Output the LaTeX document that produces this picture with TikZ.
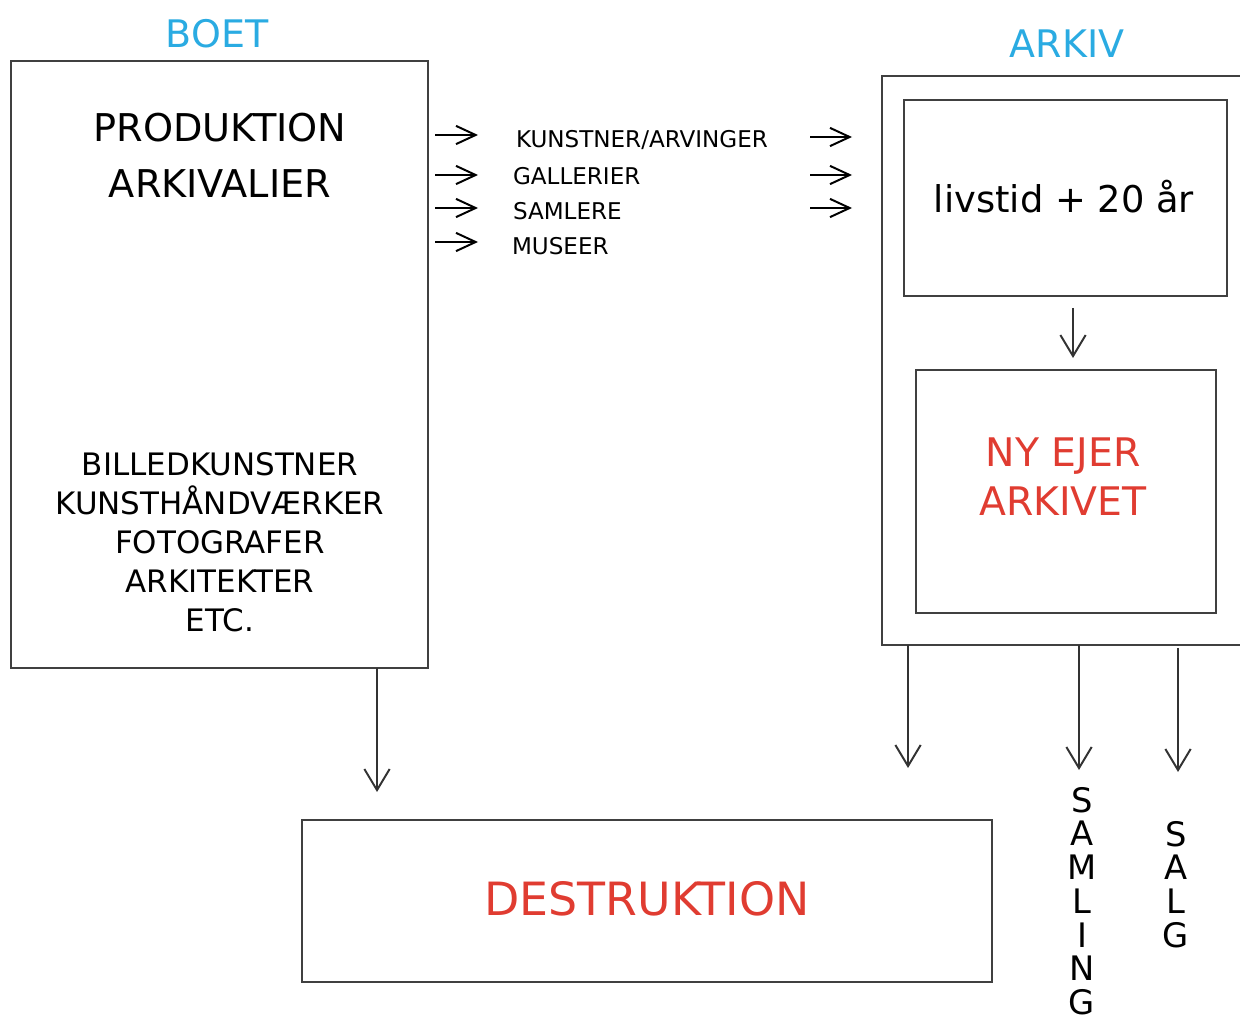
\documentclass[tikz,border=0pt]{standalone}
\usepackage{fontspec}
\setmainfont{DejaVu Sans}
\usetikzlibrary{arrows.meta}
\definecolor{titleblue}{HTML}{2AABE2}
\definecolor{alertred}{HTML}{E03C31}
\tikzset{
  box/.style={draw=black!75, line width=1.3pt, rectangle},
  title/.style={text=titleblue, font=\fontsize{27}{30}\selectfont},
  smallflow/.style={line width=1.4pt, -{Straight Barb[length=14pt, width=13pt]}},
  downflow/.style={draw=black!80, line width=1.4pt, -{Straight Barb[length=15pt, width=18pt]}},
  listtext/.style={anchor=west, font=\fontsize{16.4}{18}\selectfont},
  vletters/.style={anchor=north, align=center, font=\fontsize{24}{24}\selectfont}
}
\begin{document}
\begin{tikzpicture}[x=0.025cm, y=-0.025cm, every node/.style={inner sep=0pt, outer sep=0pt}]
    \useasboundingbox (0,0) rectangle (1240,1016);
    % titles
    \node[title] (boettitle) at (217,34) {BOET};
    \node[title] (arkivtitle) at (1067,44) {ARKIV};
    % boxes
    \node[box, minimum width=10.425cm, minimum height=15.175cm] (boet) at (219.5,364.5) {};
    \node[box, minimum width=9.45cm, minimum height=14.225cm] (arkiv) at (1071,360.5) {};
    \node[box, minimum width=8.075cm, minimum height=4.9cm] (livstid) at (1065.5,198) {};
    \node[box, minimum width=7.5cm, minimum height=6.075cm] (nyejer) at (1066,491.5) {};
    \node[box, minimum width=17.25cm, minimum height=4.05cm] (destruktion) at (647,901) {};
    % texts in boxes
    \node[align=center, font=\fontsize{27.2}{40}\selectfont] (produktion) at (220,155) {PRODUKTION\\ARKIVALIER};
    \node[align=center, font=\fontsize{22}{27.8}\selectfont] (kunstnere) at (220,542) {BILLEDKUNSTNER\\KUNSTHÅNDVÆRKER\\FOTOGRAFER\\ARKITEKTER\\ETC.};
    \node[font=\fontsize{26.2}{30}\selectfont] (livstidtext) at (1064,197) {livstid + 20 år};
    \node[align=center, text=alertred, font=\fontsize{28}{34.7}\selectfont] (nyejertext) at (1063,477) {NY EJER\\ARKIVET};
    \node[text=alertred, font=\fontsize{32.6}{36}\selectfont] (destruktiontext) at (647,899) {DESTRUKTION};
    % owners
    \node[listtext] (kunstner) at (516,140) {KUNSTNER/ARVINGER};
    \node[listtext] (gallerier) at (513,176) {GALLERIER};
    \node[listtext] (samlere) at (513,211) {SAMLERE};
    \node[listtext] (museer) at (512,246) {MUSEER};
    \foreach \name/\y in {ka/135, ga/175, sa/208, mu/242} {
        \coordinate (\name in) at (435,\y);
        \coordinate (\name out) at (478,\y);
        \draw[smallflow] (\name in) -- (\name out);
    }
    \foreach \name/\y in {ka/137, ga/175, sa/208} {
        \coordinate (\name r in) at (810,\y);
        \coordinate (\name r out) at (852,\y);
        \draw[smallflow] (\name r in) -- (\name r out);
    }
    % flows down
    \coordinate (tildestruktion) at (377,792);
    \coordinate (tilarkiv) at (908,768);
    \coordinate (tilsamling) at (1079,770);
    \coordinate (tilsalg) at (1178,772);
    \coordinate (arkivmidt) at (1073,0);
    \draw[downflow] (tildestruktion |- boet.south) -- (tildestruktion);
    \draw[downflow] (tilarkiv |- arkiv.south) -- (tilarkiv);
    \draw[downflow] (tilsamling |- arkiv.south) -- (tilsamling);
    \draw[downflow] ([yshift=-2pt]tilsalg |- arkiv.south) -- (tilsalg);
    \draw[downflow, shorten <=8.5pt, shorten >=8.5pt] (livstid.south -| arkivmidt) -- (nyejer.north -| arkivmidt);
    % vertical words
    \node[vletters] (samling) at (1082,787) {S\\A\\M\\L\\I\\N\\G};
    \node[vletters] (salg) at (1176,821) {S\\A\\L\\G};
\end{tikzpicture}
\end{document}
